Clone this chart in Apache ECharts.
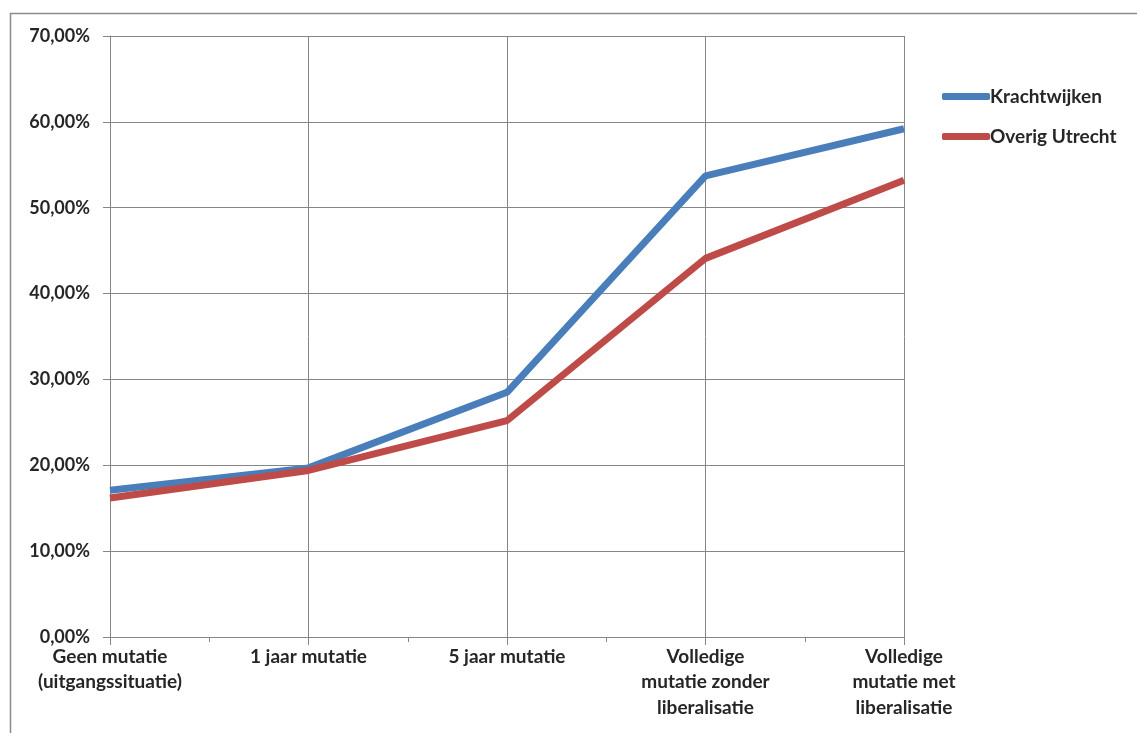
<!DOCTYPE html>
<html>
<head>
<meta charset="utf-8">
<script src="https://cdn.jsdelivr.net/npm/echarts@6/dist/echarts.min.js"></script>
<style>
html,body{margin:0;padding:0;background:#fff;}
#c{width:1137px;height:733px;}
</style>
</head>
<body>
<div id="c"></div>
<script>
var categories = [
  'Geen mutatie\n(uitgangssituatie)',
  '1 jaar mutatie',
  '5 jaar mutatie',
  'Volledige\nmutatie zonder\nliberalisatie',
  'Volledige\nmutatie met\nliberalisatie'
];
var seriesNames = ['Krachtwijken', 'Overig Utrecht'];
var krachtwijken = [17.1, 19.7, 28.5, 53.7, 59.2];
var overigUtrecht = [16.2, 19.4, 25.2, 44.1, 53.2];
var yTicks = [0, 10, 20, 30, 40, 50, 60, 70];

var FONT = 'Lato';
var TXT = '#262626';
var GRID = '#868686';

var chart = echarts.init(document.getElementById('c'), null, {renderer: 'canvas'});
chart.setOption({
  animation: false,
  backgroundColor: '#fff',
  graphic: [{
    type: 'rect',
    shape: {x: 10.5, y: 13.5, width: 1140, height: 740},
    style: {fill: 'none', stroke: '#8a8a8a', lineWidth: 1.5},
    silent: true,
    z: 0
  }],
  grid: {left: 110, right: 233, top: 36, bottom: 96, containLabel: false},
  legend: {
    orient: 'vertical',
    left: 942,
    top: 87,
    padding: 0,
    itemWidth: 48,
    itemHeight: 7,
    itemGap: 21,
    icon: 'roundRect',
    data: seriesNames,
    textStyle: {fontFamily: FONT, fontWeight: 'bold', fontSize: 19, color: TXT, padding: [0, 0, 0, -5]}
  },
  xAxis: [{
    type: 'category',
    data: categories,
    boundaryGap: false,
    axisLine: {show: true, lineStyle: {color: GRID, width: 1}},
    axisTick: {show: true, length: 8, lineStyle: {color: GRID}},
    splitLine: {show: true, lineStyle: {color: GRID, width: 1}},
    axisLabel: {
      fontFamily: FONT, fontWeight: 'bold', fontSize: 19, color: TXT,
      lineHeight: 25.5, margin: 7, interval: 0, align: 'center'
    }
  }, {
    type: 'value',
    min: 0, max: 4, interval: 0.5,
    position: 'bottom',
    axisLine: {show: false},
    axisTick: {show: true, length: 5, lineStyle: {color: GRID}},
    axisLabel: {show: false},
    splitLine: {show: false}
  }],
  yAxis: {
    type: 'value',
    min: 0, max: 70, interval: 10,
    axisLine: {show: true, lineStyle: {color: GRID, width: 1}},
    axisTick: {show: true, length: 7, lineStyle: {color: GRID}},
    splitLine: {show: true, lineStyle: {color: GRID, width: 1}},
    axisLabel: {
      fontFamily: FONT, fontWeight: 'bold', fontSize: 18, color: TXT, margin: 20,
      formatter: function (v) { return v.toFixed(2).replace('.', ',') + '%'; }
    }
  },
  series: [{
    name: seriesNames[0],
    type: 'line',
    data: krachtwijken,
    symbol: 'none',
    lineStyle: {color: '#4A7EBB', width: 7},
    itemStyle: {color: '#4A7EBB'},
    z: 3
  }, {
    name: seriesNames[1],
    type: 'line',
    data: overigUtrecht,
    symbol: 'none',
    lineStyle: {color: '#BE4B48', width: 7},
    itemStyle: {color: '#BE4B48'},
    z: 4
  }]
});
</script>
</body>
</html>
